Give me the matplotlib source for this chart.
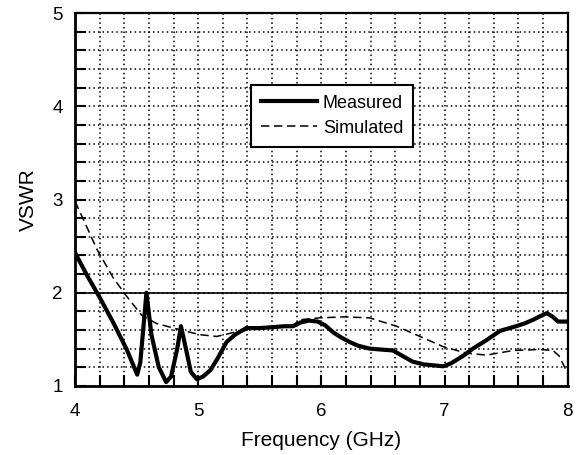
import numpy as np
import matplotlib
matplotlib.use('Agg')
import matplotlib.pyplot as plt
from matplotlib.ticker import MultipleLocator

plt.rcParams['font.family'] = ['Liberation Sans', 'DejaVu Sans']

# measured VSWR
meas_f = [4.00, 4.10, 4.20, 4.31, 4.42, 4.48, 4.505, 4.53, 4.58, 4.62, 4.68, 4.74,
          4.78, 4.83, 4.86, 4.90, 4.94, 4.99, 5.04, 5.10, 5.16, 5.23, 5.30, 5.39,
          5.50, 5.61, 5.70, 5.77, 5.83, 5.90, 5.97, 6.03, 6.10, 6.16, 6.23, 6.30,
          6.39, 6.48, 6.58, 6.66, 6.74, 6.83, 6.91, 6.99, 7.05, 7.10, 7.16, 7.23,
          7.34, 7.45, 7.58, 7.65, 7.72, 7.78, 7.83, 7.88, 7.92, 8.00]
meas_v = [2.43, 2.18, 1.95, 1.68, 1.39, 1.20, 1.12, 1.25, 2.00, 1.55, 1.20, 1.04,
          1.10, 1.40, 1.64, 1.40, 1.15, 1.07, 1.10, 1.17, 1.30, 1.47, 1.55, 1.62,
          1.62, 1.63, 1.64, 1.64, 1.68, 1.70, 1.69, 1.65, 1.57, 1.52, 1.47, 1.43,
          1.40, 1.39, 1.38, 1.32, 1.26, 1.23, 1.22, 1.21, 1.24, 1.28, 1.33, 1.40,
          1.49, 1.59, 1.64, 1.67, 1.71, 1.75, 1.78, 1.74, 1.69, 1.69]

# simulated VSWR
sim_f = [4.00, 4.07, 4.18, 4.31, 4.42, 4.54, 4.66, 4.80, 5.01, 5.15, 5.31, 5.50,
         5.77, 5.83, 5.99, 6.18, 6.39, 6.61, 6.80, 6.99, 7.18, 7.34, 7.56, 7.77,
         7.88, 7.93, 7.96, 8.00]
sim_v = [2.98, 2.78, 2.46, 2.16, 1.96, 1.76, 1.67, 1.62, 1.55, 1.53, 1.58, 1.62,
         1.65, 1.71, 1.73, 1.74, 1.73, 1.64, 1.53, 1.42, 1.35, 1.33, 1.38, 1.39,
         1.38, 1.32, 1.24, 1.13]

vswr_limit = 2

fig = plt.figure(figsize=(5.77, 4.55), dpi=100)
ax = fig.add_axes([0.130, 0.152, 0.854, 0.819])

ax.plot(meas_f, meas_v, color='k', lw=3.0, solid_joinstyle='round', label='Measured', zorder=4)
ax.plot(sim_f, sim_v, color='k', lw=1.1, ls=(0, (5.5, 3)), label='Simulated', zorder=3)
ax.axhline(vswr_limit, color='k', lw=1.2, zorder=2)

ax.set_xlim(4, 8)
ax.set_ylim(1, 5)
ax.xaxis.set_major_locator(MultipleLocator(1))
ax.xaxis.set_minor_locator(MultipleLocator(0.2))
ax.yaxis.set_major_locator(MultipleLocator(1))
ax.yaxis.set_minor_locator(MultipleLocator(0.2))

ax.grid(True, which='both', color='k', ls=(0, (1, 2)), lw=1.1)
ax.tick_params(which='both', direction='in', top=False, right=False,
               labelsize=13.5)
ax.tick_params(axis='x', which='both', pad=12)
ax.tick_params(axis='y', which='both', pad=9)
ax.tick_params(which='major', length=8, width=1.5)
ax.tick_params(which='minor', length=8, width=1.5)

for side in ['left', 'bottom']:
    ax.spines[side].set_linewidth(2.0)
for side in ['top', 'right']:
    ax.spines[side].set_linewidth(1.6)

ax.set_xlabel('Frequency (GHz)', fontsize=15, labelpad=8)
ax.set_ylabel('VSWR', fontsize=15, labelpad=10)

leg = ax.legend(loc='upper left', bbox_to_anchor=(0.358, 0.808), fontsize=13,
                handlelength=3.1, handletextpad=0.3, borderpad=0.55,
                labelspacing=0.45, fancybox=False, framealpha=1, borderaxespad=0)
leg.get_frame().set_edgecolor('k')
leg.get_frame().set_linewidth(1.5)

fig.savefig('out.png', dpi=100)
